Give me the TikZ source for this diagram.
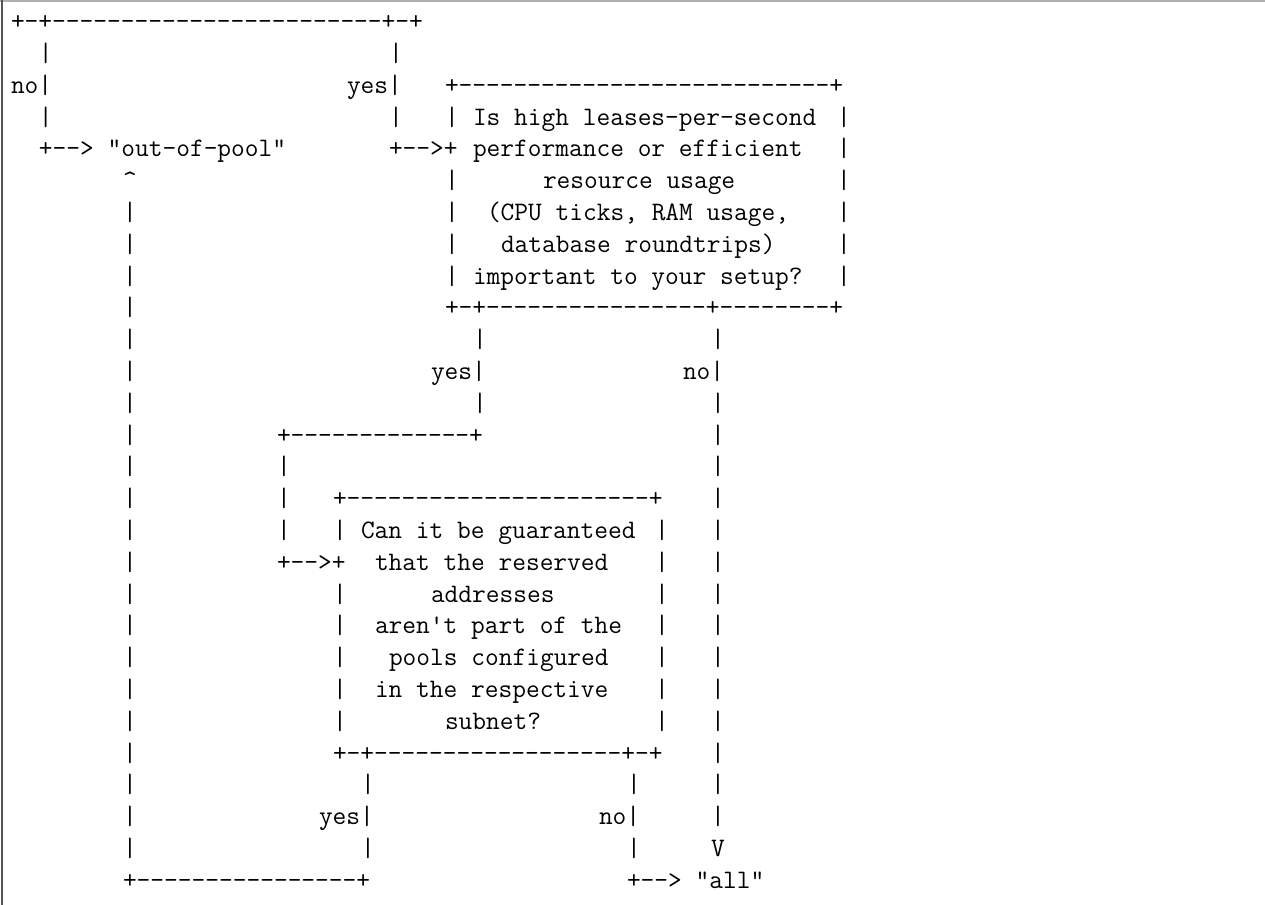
\documentclass[tikz,border=0pt]{standalone}
\usepackage{tikz}
\definecolor{rulegray}{RGB}{175,175,175}
\definecolor{edgegray}{RGB}{85,85,85}
\tikzset{
    ascii/.style={
        anchor=base west,
        inner sep=0pt,
        outer sep=0pt,
        font=\ttfamily\fontsize{13.33pt}{16pt}\selectfont\frenchspacing
    }
}
\begin{document}
\begin{tikzpicture}[x=0.5pt, y=-0.5pt]
\useasboundingbox (0,0) rectangle (1265,905);
\fill[white] (0,0) rectangle (1265,905);
% frame of the code block
\draw[rulegray, line width=1pt] (0,1) -- (1265,1);
\draw[edgegray, line width=1pt] (2,0) -- (2,905);
% text and corners, column/row
\foreach \c/\r/\txt [count=\k] in {
    0/1/{+-+------------------------+-+},
    0/3/{no|}, 24/3/{yes|}, 31/3/{+---------------------------+},
    2/5/{+--> "out-of-pool"}, 27/5/{+-->+},
    8/6/{\textasciicircum},
    33/4/{Is high leases-per-second},
    33/5/{performance or efficient},
    38/6/{resource usage},
    34/7/{(CPU ticks, RAM usage,},
    35/8/{database roundtrips)},
    33/9/{important to your setup?},
    31/10/{+-+----------------+--------+},
    30/12/{yes|}, 48/12/{no|},
    19/14/{+-------------+},
    23/16/{+----------------------+},
    25/17/{Can it be guaranteed},
    19/18/{+-->+},
    26/18/{that the reserved},
    30/19/{addresses},
    26/20/{aren't part of the},
    27/21/{pools configured},
    26/22/{in the respective},
    31/23/{subnet?},
    23/24/{+-+------------------+-+},
    22/26/{yes|}, 42/26/{no|},
    50/27/{V},
    8/28/{+----------------+},
    44/28/{+--> "all"}}
    \node[ascii] (seg\k) at ({11+14*\c},{29.7+31.8*(\r-1)}) {\txt};
% vertical bars
\foreach \c/\rows in {2/{2,4}, 27/{2,4}, 31/{4,6,7,8,9}, 59/{4,5,6,7,8,9},
    8/{7,...,27}, 33/{11,13}, 50/{11,13,14,15,16,17,18,19,20,21,22,23,24,25,26},
    19/{15,16,17}, 23/{17,19,20,21,22,23}, 46/{17,...,23}, 25/{25,27}, 44/{25,27}}
    \foreach \r in \rows
        \node[ascii] (bar\c-\r) at ({11+14*\c},{29.7+31.8*(\r-1)}) {|};
\end{tikzpicture}
\end{document}
